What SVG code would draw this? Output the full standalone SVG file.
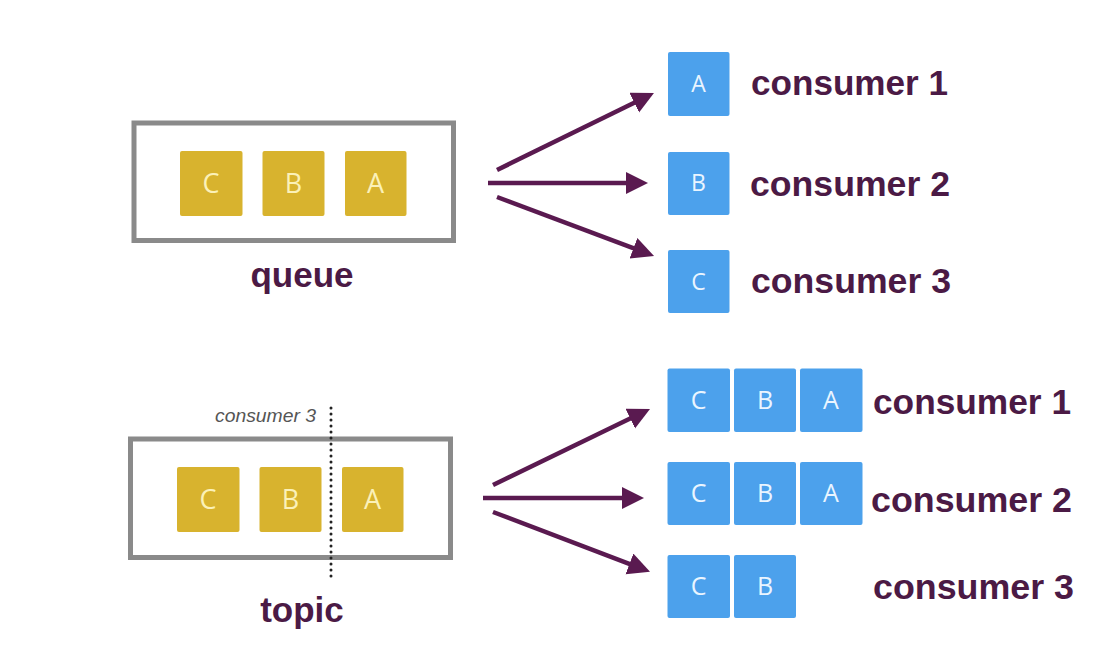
<svg xmlns="http://www.w3.org/2000/svg" width="1096" height="656" viewBox="0 0 1096 656">
<style>
.box{fill:#ffffff;stroke:#8a8a8a;stroke-width:5}
.msgY{fill:#D8B32E}
.msgB{fill:#4CA1EC}
.ltrY{font-family:"Open Sans","Liberation Sans",sans-serif;font-size:27px;fill:#FBF1B8;text-anchor:middle}
.ltrB{font-family:"Open Sans","Liberation Sans",sans-serif;font-size:23px;fill:#EAF5FF;text-anchor:middle}
.lbl{font-family:"Liberation Sans",Arial,sans-serif;font-weight:bold;font-size:35px;fill:#4B1A45}
.note{font-family:"Liberation Sans",Arial,sans-serif;font-style:italic;font-size:19px;fill:#555555}
.arr{stroke:#5A1A50;stroke-width:4.5;fill:none;marker-end:url(#ah)}
</style>
<defs>
<marker id="ah" markerUnits="userSpaceOnUse" markerWidth="24" markerHeight="24" refX="4" refY="11" orient="auto">
<path d="M0,0 L22,11 L0,22 z" fill="#5A1A50"/>
</marker>
</defs>
<rect width="1096" height="656" fill="#ffffff"/>

<g id="queue">
<rect class="box" x="134" y="123" width="319.5" height="117.5"/>
<rect class="msgY" x="180" y="151" width="62.5" height="65" rx="2"/>
<text class="ltrY" x="211" y="193">C</text>
<rect class="msgY" x="262.5" y="151" width="62" height="65" rx="2"/>
<text class="ltrY" x="293.5" y="193">B</text>
<rect class="msgY" x="345" y="151" width="61.5" height="65" rx="2"/>
<text class="ltrY" x="375.5" y="193">A</text>
<text class="lbl" x="302" y="287" text-anchor="middle">queue</text>
</g>

<g id="topic">
<rect class="box" x="130.5" y="439" width="320" height="118.5"/>
<rect class="msgY" x="177" y="467" width="62.5" height="65" rx="2"/>
<text class="ltrY" x="208" y="509">C</text>
<rect class="msgY" x="259.5" y="467" width="62" height="65" rx="2"/>
<text class="ltrY" x="290.5" y="509">B</text>
<rect class="msgY" x="342" y="467" width="61.5" height="65" rx="2"/>
<text class="ltrY" x="372.5" y="509">A</text>
<line x1="331" y1="408" x2="331" y2="578" stroke="#222222" stroke-width="3" stroke-linecap="round" stroke-dasharray="0 6"/>
<text class="note" x="215" y="422" textLength="101" lengthAdjust="spacingAndGlyphs">consumer 3</text>
<text class="lbl" x="302" y="622" text-anchor="middle">topic</text>
</g>

<g id="connectors">
<line class="arr" x1="497" y1="170" x2="637.8" y2="100.9"/>
<line class="arr" x1="488" y1="183" x2="630" y2="183"/>
<line class="arr" x1="497" y1="197" x2="637.2" y2="249.7"/>
<line class="arr" x1="493" y1="485" x2="633.8" y2="416.8"/>
<line class="arr" x1="483" y1="498" x2="626" y2="498"/>
<line class="arr" x1="493" y1="512" x2="633.2" y2="565.3"/>
</g>

<g id="q-consumer1">
<rect class="msgB" x="668" y="52" width="61.5" height="64" rx="2"/>
<text class="ltrB" x="698.5" y="92">A</text>
<text class="lbl" x="751" y="95" textLength="197" lengthAdjust="spacingAndGlyphs">consumer 1</text>
</g>
<g id="q-consumer2">
<rect class="msgB" x="668" y="152" width="61.5" height="63" rx="2"/>
<text class="ltrB" x="698.5" y="191">B</text>
<text class="lbl" x="750" y="196" textLength="200" lengthAdjust="spacingAndGlyphs">consumer 2</text>
</g>
<g id="q-consumer3">
<rect class="msgB" x="668" y="250" width="61.5" height="63" rx="2"/>
<text class="ltrB" x="698.5" y="290">C</text>
<text class="lbl" x="751" y="293" textLength="200" lengthAdjust="spacingAndGlyphs">consumer 3</text>
</g>

<g id="t-consumer1">
<rect class="msgB" x="667.5" y="368.5" width="62.5" height="63.5" rx="2"/>
<text class="ltrB" x="698.5" y="409" style="font-size:25px">C</text>
<rect class="msgB" x="734" y="368.5" width="62" height="63.5" rx="2"/>
<text class="ltrB" x="765" y="409" style="font-size:25px">B</text>
<rect class="msgB" x="800" y="368.5" width="62.5" height="63.5" rx="2"/>
<text class="ltrB" x="831" y="409" style="font-size:25px">A</text>
<text class="lbl" x="873" y="414" textLength="198" lengthAdjust="spacingAndGlyphs">consumer 1</text>
</g>
<g id="t-consumer2">
<rect class="msgB" x="667.5" y="462" width="62.5" height="63" rx="2"/>
<text class="ltrB" x="698.5" y="502" style="font-size:25px">C</text>
<rect class="msgB" x="734" y="462" width="62" height="63" rx="2"/>
<text class="ltrB" x="765" y="502" style="font-size:25px">B</text>
<rect class="msgB" x="800" y="462" width="62.5" height="63" rx="2"/>
<text class="ltrB" x="831" y="502" style="font-size:25px">A</text>
<text class="lbl" x="871" y="512" textLength="201" lengthAdjust="spacingAndGlyphs">consumer 2</text>
</g>
<g id="t-consumer3">
<rect class="msgB" x="667.5" y="555" width="62.5" height="63" rx="2"/>
<text class="ltrB" x="698.5" y="595" style="font-size:25px">C</text>
<rect class="msgB" x="734" y="555" width="62" height="63" rx="2"/>
<text class="ltrB" x="765" y="595" style="font-size:25px">B</text>
<text class="lbl" x="873" y="599" textLength="201" lengthAdjust="spacingAndGlyphs">consumer 3</text>
</g>
</svg>
